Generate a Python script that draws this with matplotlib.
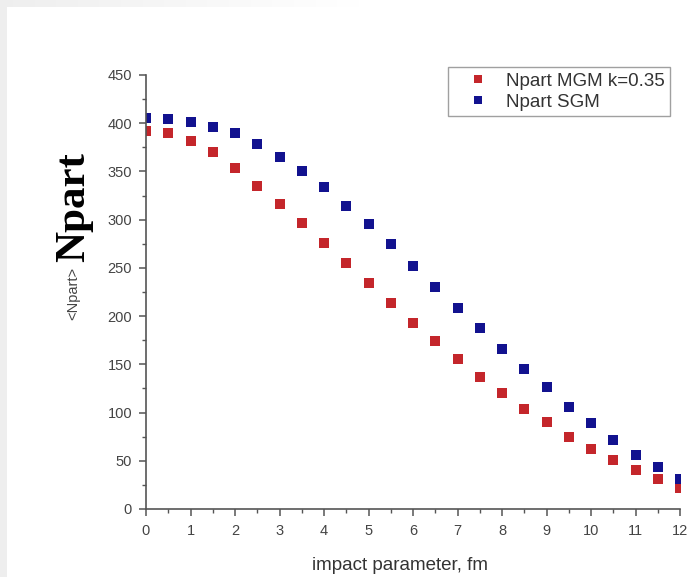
import numpy as np
import matplotlib
matplotlib.use("Agg")
import matplotlib.pyplot as plt
from matplotlib.ticker import MultipleLocator

# impact parameter grid, fm
impact_b = [0.0, 0.5, 1.0, 1.5, 2.0, 2.5, 3.0, 3.5, 4.0, 4.5, 5.0, 5.5, 6.0,
            6.5, 7.0, 7.5, 8.0, 8.5, 9.0, 9.5, 10.0, 10.5, 11.0, 11.5, 12.0]

# mean number of participants
npart_mgm = [392, 390, 382, 370, 354, 335, 316, 297, 276, 255, 234, 214, 193,
             174, 156, 137, 120, 104, 90, 75, 62, 51, 40, 31, 22]
npart_sgm = [405, 404, 401, 396, 390, 378, 365, 350, 334, 314, 296, 275, 252,
             230, 208, 188, 166, 145, 126, 106, 89, 72, 56, 44, 31]

series_labels = ["Npart MGM k=0.35", "Npart SGM"]
x_label = "impact parameter, fm"
y_label = "<Npart>"
side_title = "Npart"

W, H, DPI = 690, 577, 100
fig = plt.figure(figsize=(W / DPI, H / DPI), dpi=DPI)
fig.patch.set_facecolor("white")

# page background: faint grey margin along the top and left edges
bg_ax = fig.add_axes([0, 0, 1, 1], zorder=-10)
bg = np.ones((H, W, 3))
edge = 7
fade = np.clip(np.linspace(0.935, 1.06, W), 0, 1)
bg[:edge, :, :] = fade[None, :, None]
bg[:, :edge, :] = 0.935
bg_ax.imshow(bg, aspect="auto", interpolation="nearest")
bg_ax.axis("off")

ax = fig.add_axes([146 / W, 1 - 509 / H, (680 - 146) / W, (509 - 75) / H])
ax.set_facecolor("none")

ms = 6.5
ax.plot(impact_b, npart_mgm, linestyle="none", marker="s", markersize=ms,
        color="#c4262b", markeredgewidth=0, label=series_labels[0])
ax.plot(impact_b, npart_sgm, linestyle="none", marker="s", markersize=ms,
        color="#12128f", markeredgewidth=0, label=series_labels[1])

ax.set_xlim(0, 12)
ax.set_ylim(0, 450)
ax.xaxis.set_major_locator(MultipleLocator(1))
ax.xaxis.set_minor_locator(MultipleLocator(0.5))
ax.yaxis.set_major_locator(MultipleLocator(50))
ax.yaxis.set_minor_locator(MultipleLocator(25))

for side in ("top", "right"):
    ax.spines[side].set_visible(False)
for side in ("left", "bottom"):
    ax.spines[side].set_color("#555555")
    ax.spines[side].set_linewidth(1.2)

tick_col = "#555555"
ax.tick_params(which="major", direction="out", length=5, width=1.1,
               color=tick_col, labelsize=10.5, labelcolor="#444444", pad=5)
ax.tick_params(which="minor", direction="out", length=3, width=1.0,
               color=tick_col)
ax.tick_params(axis="x", which="major", pad=6)

for lab in ax.get_xticklabels() + ax.get_yticklabels():
    lab.set_family(["Liberation Sans", "DejaVu Sans"])

ax.set_xlabel(x_label, fontsize=13.5, color="#333333",
              family=["Liberation Sans", "DejaVu Sans"])
ax.xaxis.set_label_coords((400 - 146) / (680 - 146), -(566 - 509) / (509 - 75))
ax.xaxis.label.set_va("center")

fig.text(73 / W, 1 - 293 / H, y_label, rotation=90, ha="center", va="center",
         fontsize=10.5, color="#444444", family=["Liberation Sans", "DejaVu Sans"])

fig.text(74 / W, 1 - 207 / H, side_title, rotation=90, ha="center", va="center",
         fontsize=31, color="black", fontweight="bold",
         family=["Liberation Serif", "DejaVu Serif"])

leg = fig.legend(loc="upper right", bbox_to_anchor=(670 / W, 1 - 67 / H),
                 borderaxespad=0, frameon=True, fancybox=False,
                 prop={"family": ["Liberation Sans", "DejaVu Sans"], "size": 13.5},
                 handlelength=2.6, handletextpad=0.2, borderpad=0.3,
                 labelspacing=0.2, markerscale=0.85)
leg.get_frame().set_edgecolor("#888888")
leg.get_frame().set_linewidth(1.0)
for t in leg.get_texts():
    t.set_color("#333333")

fig.savefig("out.png", dpi=DPI)
